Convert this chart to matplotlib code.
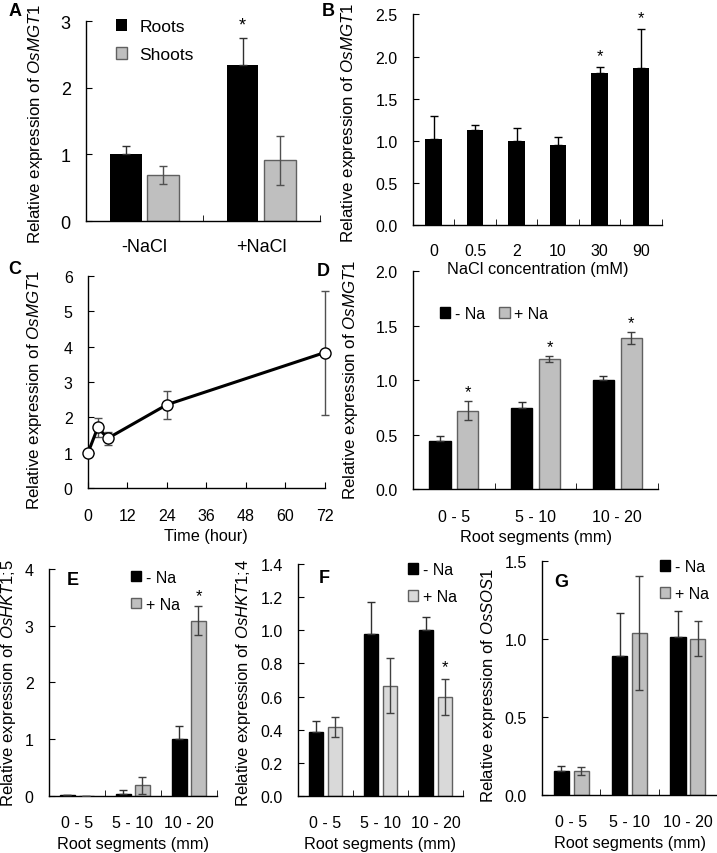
import numpy as np
import matplotlib
matplotlib.use("Agg")
import matplotlib.pyplot as plt

plt.rcParams['font.family'] = ['Liberation Sans', 'DejaVu Sans']
plt.rcParams['font.size'] = 11.5
plt.rcParams['mathtext.fontset'] = 'custom'
plt.rcParams['mathtext.rm'] = 'Liberation Sans'
plt.rcParams['mathtext.it'] = 'Liberation Sans:italic'
plt.rcParams['axes.linewidth'] = 1.0
plt.rcParams['axes.facecolor'] = 'none'

# ---- data ----
# A: tissue expression
a_groups = ['-NaCl', '+NaCl']
a_roots = [1.0, 2.35]
a_roots_err = [0.12, 0.40]
a_shoots = [0.69, 0.91]
a_shoots_err = [0.13, 0.37]

# B: NaCl concentration
b_conc = ['0', '0.5', '2', '10', '30', '90']
b_vals = [1.02, 1.13, 1.0, 0.95, 1.80, 1.87]
b_err = [0.27, 0.06, 0.15, 0.10, 0.08, 0.46]
b_star = [False, False, False, False, True, True]

# C: time course
c_time = [0, 3, 6, 24, 72]
c_vals = [1.0, 1.72, 1.41, 2.36, 3.83]
c_err = [0.0, 0.27, 0.19, 0.40, 1.75]

segments = ['0 - 5', '5 - 10', '10 - 20']

# D: OsMGT1 in root segments
d_minus = [0.44, 0.745, 1.0]
d_minus_err = [0.05, 0.055, 0.04]
d_plus = [0.72, 1.195, 1.385]
d_plus_err = [0.09, 0.025, 0.055]
d_star = [True, True, True]

# E: OsHKT1;5
e_minus = [0.01, 0.04, 1.01]
e_minus_err = [0.01, 0.07, 0.23]
e_plus = [0.005, 0.19, 3.09]
e_plus_err = [0.0, 0.15, 0.25]
e_star = [False, False, True]

# F: OsHKT1;4
f_minus = [0.386, 0.977, 1.0]
f_minus_err = [0.064, 0.195, 0.08]
f_plus = [0.416, 0.665, 0.597]
f_plus_err = [0.06, 0.165, 0.108]
f_star = [False, False, True]

# G: OsSOS1
g_minus = [0.156, 0.889, 1.01]
g_minus_err = [0.03, 0.28, 0.17]
g_plus = [0.152, 1.036, 1.0]
g_plus_err = [0.026, 0.366, 0.112]

YL = 12.2   # y label size
XL = 11.7   # x label size

fig = plt.figure(figsize=(7.17, 8.54), dpi=100)


def style_axes(ax, pad=14):
    for s in ['top', 'right']:
        ax.spines[s].set_visible(False)
    ax.tick_params(axis='y', direction='in', length=4, pad=11)
    ax.tick_params(axis='x', which='minor', direction='in', length=4)
    ax.tick_params(axis='x', which='major', length=0, pad=pad)


def cat_axis(ax, labels):
    n = len(labels)
    ax.set_xlim(0, n)
    ax.set_xticks(np.arange(n) + 0.5)
    ax.set_xticklabels(labels)
    ax.set_xticks(np.arange(1, n + 1), minor=True)


def grouped(ax, minus, minus_err, plus, plus_err, plus_color, off=0.17, w=0.26):
    x = np.arange(len(minus)) + 0.5
    ax.bar(x - off, minus, w, color='black', edgecolor='black', label='- Na', zorder=2)
    ax.errorbar(x - off, minus, yerr=[np.zeros(len(minus)), minus_err], fmt='none',
                ecolor='#303030', elinewidth=1, capsize=3, zorder=3)
    ax.bar(x + off, plus, w, color=plus_color, edgecolor='#606060', linewidth=1,
           label='+ Na', zorder=2)
    ax.errorbar(x + off, plus, yerr=plus_err, fmt='none', ecolor='#404040',
                elinewidth=1, capsize=3, zorder=3)
    return x


def na_legend(ax, anchor, ncol=1):
    ax.legend(loc='upper left', bbox_to_anchor=anchor, frameon=False, ncol=ncol,
              handlelength=0.65, handleheight=0.65, handletextpad=0.3, labelspacing=0.75,
              columnspacing=0.9, fontsize=11.5)


# ---- A ----
axA = fig.add_axes([0.120, 0.740, 0.326, 0.234])
style_axes(axA, pad=12)
cat_axis(axA, a_groups)
axA.tick_params(labelsize=13)
xa = np.arange(2) + 0.5
axA.bar(xa - 0.16, a_roots, 0.27, color='black', label='Roots', zorder=2)
axA.errorbar(xa - 0.16, a_roots, yerr=[[0, 0], a_roots_err], fmt='none', ecolor='#303030',
             capsize=3, elinewidth=1, zorder=3)
axA.bar(xa + 0.16, a_shoots, 0.27, color='#bfbfbf', edgecolor='#606060', label='Shoots', zorder=2)
axA.errorbar(xa + 0.16, a_shoots, yerr=a_shoots_err, fmt='none', ecolor='#505050',
             capsize=3, elinewidth=1, zorder=3)
axA.text(xa[1] - 0.16, a_roots[1] + a_roots_err[1] + 0.06, '*', ha='center', va='bottom', fontsize=13)
axA.set_ylim(0, 3)
axA.set_yticks([0, 1, 2, 3])
axA.set_ylabel('Relative expression of $\\mathit{OsMGT1}$', fontsize=YL)
axA.yaxis.set_label_coords(-0.175, 0.49)
axA.legend(loc='upper left', bbox_to_anchor=(0.06, 1.09), frameon=False, handlelength=0.65,
           handleheight=0.65, labelspacing=0.75, handletextpad=0.7, fontsize=12.5)

# ---- B ----
axB = fig.add_axes([0.576, 0.735, 0.347, 0.247])
style_axes(axB, pad=13)
cat_axis(axB, b_conc)
xb = np.arange(len(b_vals)) + 0.5
axB.bar(xb, b_vals, 0.4, color='black', zorder=2)
axB.errorbar(xb, b_vals, yerr=[np.zeros(len(b_vals)), b_err], fmt='none', ecolor='black',
             capsize=3, elinewidth=1, zorder=3)
for xi, v, e, s in zip(xb, b_vals, b_err, b_star):
    if s:
        axB.text(xi, v + e + 0.04, '*', ha='center', va='bottom', fontsize=12)
axB.set_ylim(0, 2.5)
axB.set_yticks([0, 0.5, 1.0, 1.5, 2.0, 2.5])
axB.set_yticklabels(['0.0', '0.5', '1.0', '1.5', '2.0', '2.5'])
axB.set_xlabel('NaCl concentration (mM)', fontsize=XL, labelpad=2)
axB.set_ylabel('Relative expression of $\\mathit{OsMGT1}$', fontsize=YL)
axB.yaxis.set_label_coords(-0.221, 0.49)

# ---- C ----
axC = fig.add_axes([0.1227, 0.427, 0.330, 0.249])
for s in ['top', 'right']:
    axC.spines[s].set_visible(False)
axC.tick_params(direction='in', length=4)
axC.tick_params(axis='y', pad=11)
axC.tick_params(axis='x', pad=14)
eb = axC.errorbar(c_time, c_vals, yerr=c_err, fmt='none', ecolor='#505050', capsize=3,
                  elinewidth=1, zorder=2)
for art in eb.lines[1] + eb.lines[2]:
    art.set_clip_on(False)
axC.plot(c_time, c_vals, '-o', color='black', lw=2.2, markersize=8,
         markerfacecolor='white', markeredgecolor='black', markeredgewidth=1, zorder=3,
         clip_on=False)
axC.set_xlim(0, 72)
axC.set_xticks([0, 12, 24, 36, 48, 60, 72])
axC.set_ylim(0, 6)
axC.set_yticks(range(7))
axC.set_xlabel('Time (hour)', fontsize=XL, labelpad=4)
axC.set_ylabel('Relative expression of $\\mathit{OsMGT1}$', fontsize=YL)
axC.yaxis.set_label_coords(-0.186, 0.47)

# ---- D ----
axD = fig.add_axes([0.576, 0.426, 0.342, 0.2555])
style_axes(axD)
cat_axis(axD, segments)
xd = grouped(axD, d_minus, d_minus_err, d_plus, d_plus_err, '#bfbfbf')
for xi, v, e, s in zip(xd, d_plus, d_plus_err, d_star):
    if s:
        axD.text(xi + 0.17, v + e + 0.015, '*', ha='center', va='bottom', fontsize=12)
axD.set_ylim(0, 2.0)
axD.set_yticks([0, 0.5, 1.0, 1.5, 2.0])
axD.set_yticklabels(['0.0', '0.5', '1.0', '1.5', '2.0'])
axD.set_xlabel('Root segments (mm)', fontsize=XL, labelpad=4)
axD.set_ylabel('Relative expression of $\\mathit{OsMGT1}$', fontsize=YL)
axD.yaxis.set_label_coords(-0.216, 0.505)
na_legend(axD, (0.05, 0.905), ncol=2)

# ---- E ----
axE = fig.add_axes([0.0683, 0.0667, 0.2343, 0.2659])
style_axes(axE)
cat_axis(axE, segments)
xe = grouped(axE, e_minus, e_minus_err, e_plus, e_plus_err, '#bfbfbf')
for xi, v, e, s in zip(xe, e_plus, e_plus_err, e_star):
    if s:
        axE.text(xi + 0.17, v + e + 0.06, '*', ha='center', va='bottom', fontsize=12)
axE.set_ylim(0, 4)
axE.set_yticks([0, 1, 2, 3, 4])
axE.set_xlabel('Root segments (mm)', fontsize=XL, labelpad=4)
axE.set_ylabel('Relative expression of $\\mathit{OsHKT1;\\!5}$', fontsize=12)
axE.yaxis.set_label_coords(-0.185, 0.50)
axE.text(0.14, 0.955, 'E', transform=axE.transAxes, ha='center', va='center',
         fontsize=13, fontweight='bold')
na_legend(axE, (0.40, 1.06))

# ---- F ----
axF = fig.add_axes([0.4156, 0.0667, 0.2301, 0.2717])
style_axes(axF)
cat_axis(axF, segments)
xf = grouped(axF, f_minus, f_minus_err, f_plus, f_plus_err, '#d9d9d9')
for xi, v, e, s in zip(xf, f_plus, f_plus_err, f_star):
    if s:
        axF.text(xi + 0.17, v + e + 0.03, '*', ha='center', va='bottom', fontsize=12)
axF.set_ylim(0, 1.4)
axF.set_yticks(np.arange(0, 1.41, 0.2))
axF.set_yticklabels(['0.0', '0.2', '0.4', '0.6', '0.8', '1.0', '1.2', '1.4'])
axF.set_xlabel('Root segments (mm)', fontsize=XL, labelpad=4)
axF.set_ylabel('Relative expression of $\\mathit{OsHKT1;\\!4}$', fontsize=12)
axF.yaxis.set_label_coords(-0.273, 0.49)
axF.text(0.16, 0.94, 'F', transform=axF.transAxes, ha='center', va='center',
         fontsize=13, fontweight='bold')
na_legend(axF, (0.58, 1.07))

# ---- G ----
axG = fig.add_axes([0.756, 0.068, 0.244, 0.274])
style_axes(axG)
cat_axis(axG, segments)
grouped(axG, g_minus, g_minus_err, g_plus, g_plus_err, '#bfbfbf')
axG.set_ylim(0, 1.5)
axG.set_yticks([0, 0.5, 1.0, 1.5])
axG.set_yticklabels(['0.0', '0.5', '1.0', '1.5'])
axG.set_xlabel('Root segments (mm)', fontsize=XL, labelpad=4)
axG.set_ylabel('Relative expression of $\\mathit{OsSOS1}$', fontsize=12)
axG.yaxis.set_label_coords(-0.25, 0.47)
axG.text(0.11, 0.91, 'G', transform=axG.transAxes, ha='center', va='center',
         fontsize=13, fontweight='bold')
na_legend(axG, (0.59, 1.07))

# panel letters
for lbl, x, y in [('A', 15, 12), ('B', 328, 12), ('C', 15, 270), ('D', 323, 271)]:
    fig.text(x / 717, 1 - y / 854, lbl, fontsize=13, fontweight='bold', ha='center', va='center')

fig.savefig('out.png', dpi=100, facecolor='white')
